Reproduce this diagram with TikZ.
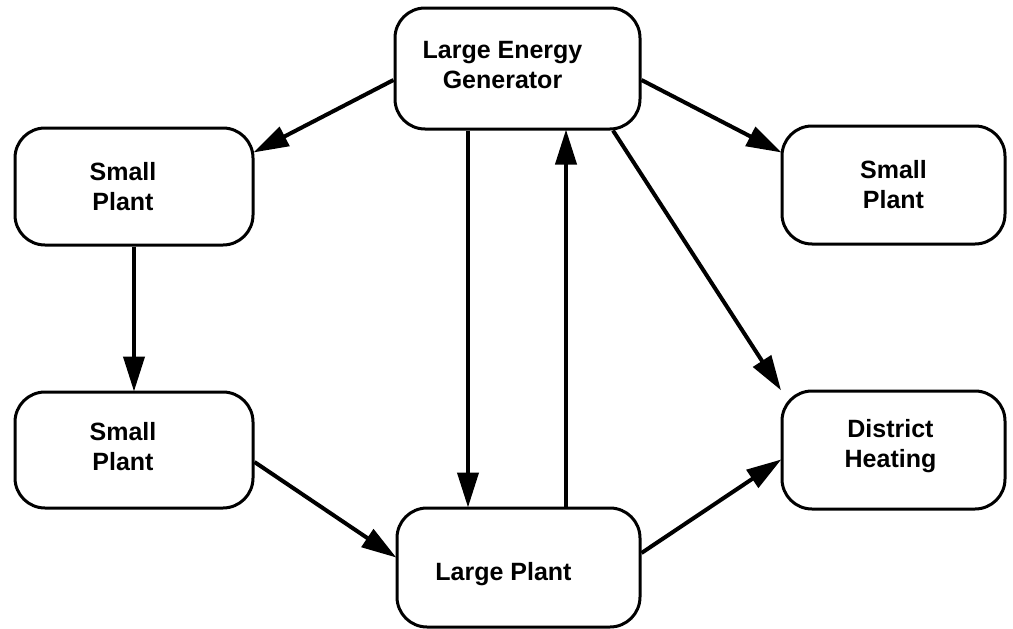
\documentclass[tikz,border=0pt]{standalone}
\usepackage{fontspec}
\setmainfont{Liberation Sans}
\usetikzlibrary{arrows.meta}
\begin{document}
\begin{tikzpicture}[x=1pt,y=-1pt,
  box/.style={draw=black,line width=3pt,rounded corners=30pt,fill=white,inner sep=0pt},
  lbl/.style={align=center,font=\fontsize{25}{30}\selectfont\bfseries},
  arr/.style={line width=4pt,-{Triangle[length=35pt,width=21pt]},shorten >=-1pt}]
\useasboundingbox (0,0) rectangle (1013,629);
\node[box,minimum width=245pt,minimum height=121pt,label={[lbl,xshift=-15pt,yshift=3pt]center:Large Energy\\Generator}] (leg) at (517.5,68.5) {};
\node[box,minimum width=238pt,minimum height=117pt,label={[lbl,xshift=-11pt]center:Small\\Plant}] (sp1) at (134,186.5) {};
\node[box,minimum width=223pt,minimum height=118pt,label={[lbl]center:Small\\Plant}] (sp2) at (893.5,185) {};
\node[box,minimum width=238pt,minimum height=116pt,label={[lbl,xshift=-11pt,yshift=3pt]center:Small\\Plant}] (sp3) at (134,450) {};
\node[box,minimum width=223pt,minimum height=118pt,label={[lbl,xshift=-3pt,yshift=4pt]center:District\\Heating}] (dh) at (893.5,450) {};
\node[box,minimum width=243pt,minimum height=119pt,label={[lbl,xshift=-15pt,yshift=-7pt]center:Large Plant}] (lp) at (518.5,567.5) {};
\draw[arr] (leg.west |- 0,80) -- (sp1.east |- 0,152);
\draw[arr] (leg.east |- 0,80) -- (sp2.west |- 0,152);
\draw[arr] (leg.south -| 468,0) -- (lp.north -| 468,0);
\draw[arr] (lp.north -| 566,0) -- (leg.south -| 566,0);
\draw[arr] (leg.south -| 613,0) -- (dh.north west);
\draw[arr] (sp1.south) -- (sp3.north);
\draw[arr] (sp3.east |- 0,462) -- (lp.west |- 0,557);
\draw[arr] (lp.east |- 0,553) -- (dh.west |- 0,460);
\end{tikzpicture}
\end{document}
